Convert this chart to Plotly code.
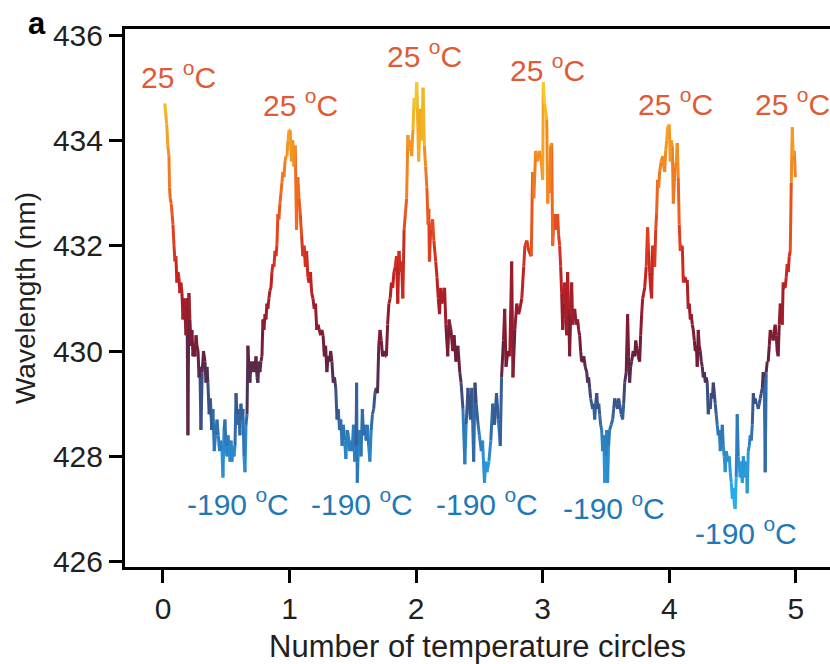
import plotly.graph_objects as go
from plotly.colors import sample_colorscale

# ---------------- data ----------------
cycle0_x = [0.015, 0.022, 0.030, 0.038, 0.047, 0.052, 0.057, 0.065, 0.072, 0.079, 0.087, 0.095, 0.102, 0.110, 0.118,
            0.126, 0.134, 0.142, 0.150, 0.158, 0.166, 0.174, 0.182, 0.190, 0.197, 0.205, 0.213, 0.221, 0.229, 0.237,
            0.245, 0.253, 0.261, 0.269, 0.277, 0.285, 0.292, 0.300, 0.310, 0.320, 0.332, 0.340, 0.348, 0.355, 0.365,
            0.375, 0.385, 0.395, 0.405, 0.415, 0.427, 0.437, 0.447, 0.457, 0.466, 0.474, 0.482, 0.490, 0.498, 0.506,
            0.514, 0.522, 0.530, 0.538, 0.545, 0.553, 0.561, 0.569, 0.577, 0.585, 0.593, 0.600, 0.608, 0.616, 0.624,
            0.632, 0.640, 0.648, 0.656, 0.664, 0.671, 0.679, 0.687, 0.695, 0.703, 0.711, 0.719, 0.727, 0.735, 0.743,
            0.750, 0.758, 0.766, 0.774, 0.782, 0.790, 0.798, 0.806, 0.814, 0.821, 0.829, 0.837, 0.845, 0.853, 0.861,
            0.869, 0.877, 0.885, 0.893, 0.900, 0.908, 0.916, 0.924, 0.932, 0.940, 0.948, 0.956, 0.964, 0.972, 0.980,
            0.988, 0.996]
cycle0_nm = [434.7, 434.5, 434.3, 433.9, 433.7, 433.1, 432.9, 432.8, 432.6, 432.4, 432.0, 431.7, 431.8, 431.3, 431.5,
             431.4, 431.1, 431.3, 431.1, 430.6, 431.0, 430.7, 430.3, 431.0, 428.4, 431.1, 430.6, 430.1, 430.4, 429.9,
             430.1, 429.9, 430.3, 430.1, 430.0, 429.5, 429.7, 428.5, 429.6, 430.0, 429.8, 429.4, 429.7, 429.4, 428.8,
             429.1, 428.5, 428.9, 428.1, 428.4, 428.7, 428.4, 428.1, 428.3, 428.1, 427.6, 428.5, 428.7, 428.2, 428.0,
             428.4, 428.2, 427.9, 428.3, 427.9, 428.2, 428.0, 428.2, 429.2, 428.8, 428.6, 428.9, 428.4, 429.0, 428.7,
             428.9, 428.0, 427.7, 428.6, 428.8, 430.1, 429.7, 429.4, 429.8, 429.6, 429.8, 429.75, 429.6, 429.9, 429.5,
             429.4, 429.8, 429.6, 429.8, 429.9, 430.6, 430.4, 430.7, 430.6, 430.9, 430.8, 431.0, 431.15, 431.2, 431.5,
             431.65, 431.6, 431.9, 431.8, 432.0, 432.6, 432.5, 432.8, 433.0, 433.2, 433.4, 433.3, 433.6, 433.7, 433.7,
             434.0, 434.2]

cycle1_x = [1.005, 1.015, 1.025, 1.035, 1.045, 1.055, 1.065, 1.075, 1.085, 1.095, 1.105, 1.115, 1.125, 1.135, 1.145,
            1.155, 1.165, 1.175, 1.185, 1.195, 1.205, 1.215, 1.225, 1.235, 1.245, 1.255, 1.265, 1.275, 1.285, 1.295,
            1.305, 1.315, 1.325, 1.335, 1.345, 1.355, 1.365, 1.375, 1.385, 1.395, 1.405, 1.415, 1.425, 1.435, 1.445,
            1.455, 1.465, 1.475, 1.485, 1.495, 1.505, 1.515, 1.525, 1.530, 1.535, 1.545, 1.555, 1.565, 1.575, 1.585,
            1.595, 1.605, 1.615, 1.625, 1.635, 1.645, 1.655, 1.665, 1.675, 1.685, 1.695, 1.705, 1.715, 1.725, 1.735,
            1.745, 1.755, 1.765, 1.775, 1.785, 1.795, 1.805, 1.815, 1.825, 1.835, 1.845, 1.855, 1.865, 1.875, 1.885,
            1.895, 1.905, 1.915, 1.925, 1.935, 1.945, 1.955, 1.965, 1.975, 1.985, 1.995, 2.005]
cycle1_nm = [434.2, 433.6, 434.0, 433.5, 433.9, 432.3, 433.3, 432.9, 432.6, 432.2, 431.8, 432.0, 431.6, 431.9, 431.4,
             431.3, 431.5, 431.1, 431.0, 430.8, 430.9, 430.4, 430.5, 430.4, 430.3, 430.4, 430.3, 429.9, 430.1, 429.6,
             429.9, 429.8, 430.0, 429.8, 429.4, 429.5, 429.3, 428.7, 428.9, 428.5, 428.7, 428.2, 428.6, 428.3, 427.95,
             428.5, 428.4, 428.1, 428.3, 428.1, 428.6, 427.9, 428.2, 429.4, 427.5, 428.2, 428.5, 428.0, 428.9, 428.4,
             428.6, 428.3, 428.6, 428.2, 427.9, 428.5, 428.8, 428.9, 429.2, 429.3, 429.2, 430.1, 430.4, 430.2, 429.9,
             430.0, 429.9, 429.9, 430.5, 430.9, 431.0, 431.3, 431.2, 431.5, 431.6, 431.8, 430.9, 431.9, 431.5, 431.7,
             431.0, 432.3, 432.6, 432.9, 434.1, 433.8, 434.0, 433.7, 434.2, 434.8, 434.6, 435.1]

cycle2_x = [2.020, 2.035, 2.045, 2.055, 2.065, 2.075, 2.085, 2.095, 2.100, 2.105, 2.115, 2.130, 2.140, 2.155, 2.165,
            2.175, 2.185, 2.195, 2.205, 2.215, 2.225, 2.235, 2.250, 2.260, 2.275, 2.290, 2.300, 2.315, 2.330, 2.345,
            2.355, 2.370, 2.385, 2.395, 2.410, 2.420, 2.430, 2.440, 2.455, 2.465, 2.475, 2.490, 2.500, 2.515, 2.525,
            2.540, 2.550, 2.560, 2.575, 2.590, 2.605, 2.620, 2.635, 2.650, 2.665, 2.675, 2.690, 2.700, 2.710, 2.725,
            2.740, 2.755, 2.765, 2.780, 2.795, 2.810, 2.820, 2.835, 2.850, 2.860, 2.875, 2.890, 2.910, 2.920, 2.930,
            2.945, 2.960, 2.975, 2.990, 3.000, 3.005]
cycle2_nm = [433.6, 434.6, 434.0, 435.0, 433.9, 433.5, 433.1, 432.4, 432.7, 431.7, 432.3, 432.5, 432.1, 431.7, 431.4,
             431.0, 430.7, 431.2, 430.9, 431.1, 431.2, 430.5, 429.9, 430.6, 430.4, 430.0, 430.3, 429.8, 430.1, 429.6,
             429.4, 428.9, 427.85, 428.6, 429.3, 428.9, 428.7, 429.3, 427.9, 429.4, 429.0, 428.6, 428.4, 428.1, 428.3,
             427.5, 427.9, 427.7, 427.9, 428.3, 429.0, 428.6, 429.2, 428.7, 428.2, 429.5, 430.2, 430.8, 429.7, 430.0,
             429.9, 431.7, 429.5, 430.4, 430.9, 430.7, 430.8, 431.0, 431.6, 432.0, 432.1, 431.9, 431.8, 433.4, 432.9,
             433.8, 433.6, 433.8, 433.6, 433.25, 435.1]

cycle3_x = [3.015, 3.032, 3.040, 3.048, 3.055, 3.063, 3.071, 3.079, 3.087, 3.095, 3.105, 3.118, 3.126, 3.134, 3.142,
            3.150, 3.158, 3.166, 3.174, 3.182, 3.190, 3.197, 3.205, 3.213, 3.221, 3.229, 3.237, 3.245, 3.253, 3.265,
            3.276, 3.284, 3.292, 3.300, 3.308, 3.316, 3.325, 3.336, 3.348, 3.355, 3.363, 3.371, 3.379, 3.387, 3.395,
            3.403, 3.411, 3.419, 3.427, 3.435, 3.443, 3.450, 3.458, 3.466, 3.474, 3.482, 3.490, 3.498, 3.506, 3.513,
            3.521, 3.529, 3.541, 3.553, 3.561, 3.569, 3.580, 3.592, 3.600, 3.608, 3.620, 3.632, 3.640, 3.648, 3.660,
            3.671, 3.679, 3.687, 3.695, 3.703, 3.715, 3.727, 3.735, 3.742, 3.754, 3.766, 3.774, 3.782, 3.790, 3.798,
            3.806, 3.818, 3.829, 3.837, 3.845, 3.853, 3.861, 3.869, 3.877, 3.885, 3.893, 3.900, 3.908, 3.916, 3.924,
            3.936, 3.948, 3.956, 3.964, 3.972, 3.980, 3.987]
cycle3_nm = [434.7, 434.4, 432.8, 433.5, 433.0, 433.9, 433.95, 432.0, 432.5, 432.6, 432.3, 432.6, 432.2, 432.0, 431.6,
             431.1, 430.4, 430.9, 431.3, 430.6, 430.3, 431.5, 430.8, 429.9, 430.7, 431.3, 430.5, 430.7, 430.8, 430.5,
             430.6, 430.4, 430.3, 430.0, 429.8, 429.8, 429.9, 429.7, 429.6, 429.4, 429.5, 429.3, 429.1, 429.0, 428.9,
             429.0, 428.7, 429.0, 429.2, 428.9, 429.0, 428.8, 428.6, 428.5, 428.1, 428.4, 427.5, 428.0, 428.5, 427.5,
             428.2, 428.5, 428.6, 428.7, 428.9, 429.1, 429.0, 428.9, 429.1, 429.0, 428.8, 428.7, 429.0, 429.4, 429.6,
             430.7, 429.9, 429.4, 429.7, 429.8, 430.0, 429.9, 430.2, 430.1, 429.9, 429.8, 430.3, 430.7, 431.0, 431.1,
             431.2, 431.6, 432.35, 431.9, 431.5, 431.2, 431.0, 432.0, 431.8, 431.6, 432.3, 432.6, 433.25, 433.1, 433.4,
             433.6, 433.7, 433.5, 433.4, 433.8, 434.0, 434.25]

cycle4_x = [4.000, 4.008, 4.016, 4.024, 4.032, 4.040, 4.048, 4.056, 4.063, 4.071, 4.079, 4.087, 4.095, 4.103, 4.111,
            4.119, 4.126, 4.134, 4.142, 4.150, 4.158, 4.166, 4.174, 4.182, 4.190, 4.198, 4.206, 4.214, 4.221, 4.229,
            4.237, 4.245, 4.253, 4.261, 4.269, 4.277, 4.285, 4.293, 4.300, 4.308, 4.316, 4.324, 4.332, 4.340, 4.348,
            4.356, 4.363, 4.371, 4.379, 4.387, 4.395, 4.403, 4.411, 4.419, 4.427, 4.434, 4.442, 4.450, 4.458, 4.466,
            4.474, 4.482, 4.490, 4.498, 4.506, 4.514, 4.521, 4.529, 4.537, 4.545, 4.553, 4.561, 4.569, 4.577, 4.585,
            4.593, 4.600, 4.608, 4.616, 4.624, 4.632, 4.640, 4.648, 4.656, 4.664, 4.672, 4.680, 4.687, 4.695, 4.703,
            4.711, 4.719, 4.727, 4.735, 4.742, 4.750, 4.758, 4.766, 4.774, 4.782, 4.790, 4.798, 4.806, 4.813, 4.821,
            4.829, 4.837, 4.845, 4.853, 4.861, 4.869, 4.877, 4.885, 4.893, 4.900, 4.908, 4.916, 4.924, 4.932, 4.940,
            4.948, 4.956, 4.964, 4.972, 4.980, 4.988, 4.996]
cycle4_nm = [434.3, 433.6, 434.0, 433.9, 432.8, 433.2, 433.5, 433.6, 433.95, 433.3, 432.4, 431.9, 432.0, 432.0, 431.3,
             431.4, 431.4, 431.3, 431.35, 430.8, 430.9, 430.6, 430.7, 430.5, 430.4, 430.2, 430.0, 430.1, 429.7, 430.4,
             430.1, 430.0, 429.8, 429.7, 429.5, 429.6, 429.4, 429.5, 429.4, 428.8, 429.0, 428.9, 429.2, 429.1, 429.4,
             429.2, 429.0, 428.8, 428.6, 428.4, 428.5, 428.1, 428.3, 428.6, 428.2, 428.0, 427.7, 428.1, 428.0, 427.9,
             428.0, 427.7, 427.5, 427.2, 427.4, 427.1, 427.0, 427.6, 428.8, 428.0, 427.8, 427.6, 427.9, 427.5, 428.0,
             427.8, 427.6, 427.9, 427.3, 428.1, 428.2, 428.4, 428.3, 428.6, 429.2, 429.0, 429.1, 429.0, 429.0, 428.9,
             429.0, 429.1, 429.2, 429.3, 429.6, 429.5, 427.7, 429.6, 429.8, 429.8, 430.1, 430.4, 430.3, 430.3, 430.2,
             430.4, 430.5, 430.3, 430.0, 429.9, 430.5, 430.9, 430.7, 430.5, 431.3, 431.2, 431.2, 431.4, 431.65, 431.5,
             431.8, 431.9, 433.2, 434.25, 433.7, 433.8, 433.3]

hot_labels_x = [0.126, 1.09, 2.07, 3.04, 4.05, 4.97]
hot_labels_y = [435.25, 434.70, 435.63, 435.38, 434.72, 434.72]
cold_labels_x = [0.59, 1.57, 2.56, 3.56, 4.61]
cold_labels_y = [427.14, 427.14, 427.14, 427.05, 426.58]

x_ticks = [0, 1, 2, 3, 4, 5]
y_ticks = [426, 428, 430, 432, 434, 436]

# ---------------- colour map (value -> colour) ----------------
vmin, vmax = 427.0, 435.2
stops_nm = [427.0, 427.8, 428.4, 429.0, 429.5, 430.0, 430.7, 431.4, 432.2, 433.0, 433.8, 434.6, 435.2]
stops_rgb = ["rgb(40,182,242)", "rgb(42,152,218)", "rgb(45,122,188)", "rgb(55,88,142)", "rgb(76,50,88)",
             "rgb(110,30,55)", "rgb(150,28,45)", "rgb(195,35,33)", "rgb(225,65,32)", "rgb(238,105,32)",
             "rgb(243,145,33)", "rgb(245,185,36)", "rgb(246,220,34)"]
cscale = [[(v - vmin) / (vmax - vmin), c] for v, c in zip(stops_nm, stops_rgb)]

xs = cycle0_x + cycle1_x + cycle2_x + cycle3_x + cycle4_x
ys = cycle0_nm + cycle1_nm + cycle2_nm + cycle3_nm + cycle4_nm

NB = 90
bins = {}
for i in range(len(xs) - 1):
    m = 0.5 * (ys[i] + ys[i + 1])
    t = min(max((m - vmin) / (vmax - vmin), 0.0), 1.0)
    b = int(round(t * (NB - 1)))
    bx, by = bins.setdefault(b, ([], []))
    bx.extend([xs[i], xs[i + 1], None])
    by.extend([ys[i], ys[i + 1], None])

fig = go.Figure()
for b in sorted(bins):
    bx, by = bins[b]
    col = sample_colorscale(cscale, [b / (NB - 1)])[0]
    fig.add_trace(go.Scatter(x=bx, y=by, mode="lines", line=dict(color=col, width=3),
                             hoverinfo="skip", showlegend=False))

FONT = "Liberation Sans, Arial, sans-serif"
HOT = "#e05b35"
COLD = "#1f79b6"

for x, y in zip(hot_labels_x, hot_labels_y):
    fig.add_annotation(x=x, y=y, text="25 <sup>o</sup>C", showarrow=False,
                       font=dict(family=FONT, size=30, color=HOT), xanchor="center", yanchor="middle")
for x, y in zip(cold_labels_x, cold_labels_y):
    fig.add_annotation(x=x, y=y, text="-190 <sup>o</sup>C", showarrow=False,
                       font=dict(family=FONT, size=30, color=COLD), xanchor="center", yanchor="middle")

W, H = 830, 664
L, R, T, B = 125, 0, 29, 97
PW, PH = W - L - R, H - T - B

fig.add_annotation(x=(37 - L) / PW, y=1 + (T - 23) / PH, xref="paper", yref="paper",
                   text="<b>a</b>", showarrow=False, xanchor="center", yanchor="middle",
                   font=dict(family=FONT, size=31, color="black"))

fig.update_layout(
    width=W, height=H,
    margin=dict(l=L, r=R, t=T, b=B),
    paper_bgcolor="white", plot_bgcolor="white",
    font=dict(family=FONT, size=30, color="#231f20"),
    xaxis=dict(range=[-0.30, 5.27], tickvals=x_ticks, ticks="outside", ticklen=13, tickwidth=3,
               tickcolor="black", showline=True, linewidth=3, linecolor="black", mirror=True,
               showgrid=False, zeroline=False, tickfont=dict(size=30),
               title=dict(text="Number of temperature circles", font=dict(size=31), standoff=18)),
    yaxis=dict(range=[425.9, 436.114], tickvals=y_ticks, ticks="outside", ticklen=13, tickwidth=3,
               tickcolor="black", showline=True, linewidth=3, linecolor="black",
               showgrid=False, zeroline=False, tickfont=dict(size=30),
               title=dict(text="Wavelength (nm)", font=dict(size=28), standoff=10)),
)

fig.write_html("out.html")
